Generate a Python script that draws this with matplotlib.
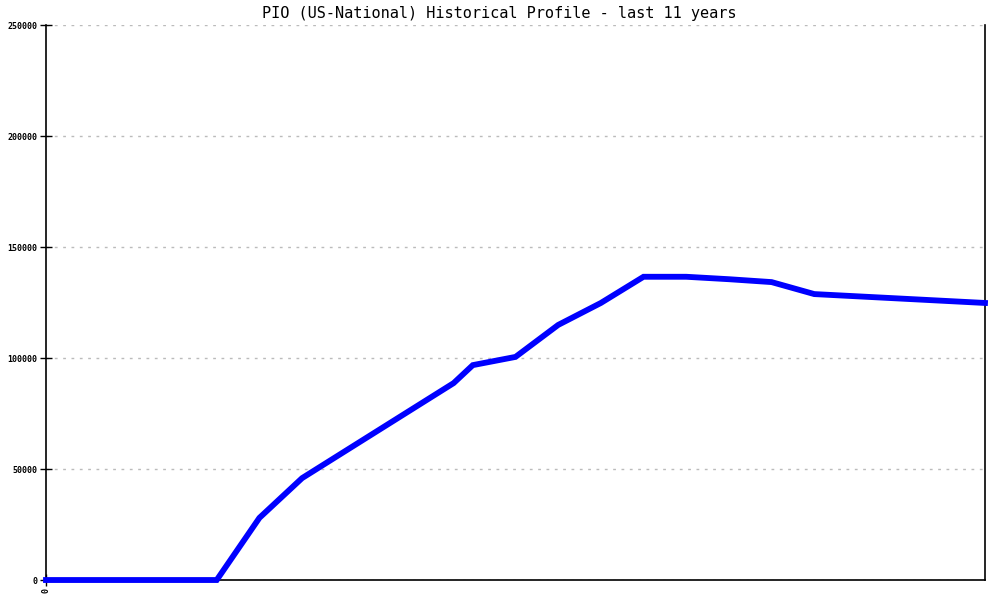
import numpy as np
import matplotlib.pyplot as plt

# half-year steps over the last 11 years (index 0..22)
periods = [0, 4, 5, 6, 9.55, 10, 11, 12, 13, 14, 15, 16, 17, 18, 19, 20, 21, 22]
values = [0, 0, 28000, 45900, 88700, 96800, 100500, 114900, 124800,
          136600, 136600, 135500, 134200, 128800, 127800, 126800, 125800, 124800]

y_ticks = [0, 50000, 100000, 150000, 200000, 250000]

fig = plt.figure(figsize=(10, 6), dpi=100)
ax = fig.add_axes([0.046, 0.0333, 0.939, 0.925])

ax.plot(periods, values, color='#0000ff', linewidth=4.2, clip_on=False,
        solid_joinstyle='miter', zorder=3)

ax.set_xlim(0, 22)
ax.set_ylim(0, 250000)
ax.set_yticks(y_ticks)
ax.set_yticklabels([str(v) for v in y_ticks], family='DejaVu Sans Mono',
                   fontsize=6, fontweight='bold')
ax.set_xticks([0])
ax.set_xticklabels(['0'], rotation=90, family='DejaVu Sans Mono',
                   fontsize=6, fontweight='bold')
ax.tick_params(axis='both', direction='inout', length=8, width=1, pad=2)

ax.grid(axis='y', color='#bbbbbb', linestyle=(0, (2, 4)), linewidth=1)
ax.spines['top'].set_visible(False)
for s in ['left', 'bottom', 'right']:
    ax.spines[s].set_linewidth(1.2)

# title is centred on the whole image, not on the plot area
fig.text(0.499, 0.978, 'PIO (US-National) Historical Profile - last 11 years',
         family='DejaVu Sans Mono', fontsize=11, ha='center', va='center')

fig.savefig('out.png', dpi=100)
